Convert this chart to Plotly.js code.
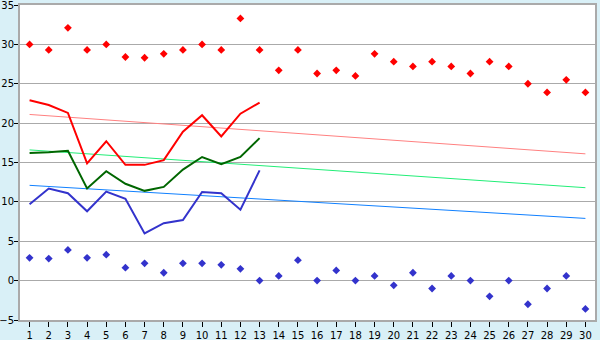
<!DOCTYPE html>
<html><head><meta charset="utf-8">
<script src="https://cdn.plot.ly/plotly-3.0.1.min.js"></script>
<style>html,body{margin:0;padding:0;background:#d9f0f7;}</style>
</head><body>
<div id="chart" style="width:600px;height:340px;"></div>
<script>
const days = Array.from({length:30},(_,i)=>i+1);
const lineDays = days.slice(0,13);
const maxPoints = [30.0,29.3,32.1,29.3,30.0,28.4,28.3,28.8,29.3,30.0,29.3,33.3,29.3,26.7,29.3,26.3,26.7,26.0,28.8,27.8,27.2,27.8,27.2,26.3,27.8,27.2,25.0,23.9,25.5,23.9];
const minPoints = [2.9,2.8,3.9,2.9,3.3,1.65,2.2,1.0,2.2,2.2,2.0,1.5,0.0,0.6,2.6,0.0,1.3,0.0,0.6,-0.6,1.0,-1.0,0.6,0.0,-2.0,0.0,-3.0,-1.0,0.6,-3.6];
const maxLine = [22.9,22.3,21.3,14.9,17.7,14.7,14.7,15.3,18.9,21.0,18.3,21.2,22.6];
const avgLine = [16.2,16.3,16.5,11.7,13.9,12.3,11.4,11.9,14.1,15.7,14.8,15.7,18.1];
const minLine = [9.7,11.7,11.1,8.8,11.3,10.4,6.0,7.3,7.7,11.25,11.1,9.0,14.0];
const trendDays = [1,30];
const maxTrend = [21.1,16.1];
const avgTrend = [16.6,11.8];
const minTrend = [12.1,7.9];
const yTicks = [-5,0,5,10,15,20,25,30,35];

const traces = [
 {x:trendDays,y:maxTrend,mode:'lines',line:{color:'#ff8080',width:1}},
 {x:trendDays,y:avgTrend,mode:'lines',line:{color:'#22ee77',width:1}},
 {x:trendDays,y:minTrend,mode:'lines',line:{color:'#1080ff',width:1}},
 {x:lineDays,y:maxLine,mode:'lines',line:{color:'#ff0000',width:2}},
 {x:lineDays,y:avgLine,mode:'lines',line:{color:'#006600',width:2}},
 {x:lineDays,y:minLine,mode:'lines',line:{color:'#3333cc',width:2}},
 {x:days,y:maxPoints,mode:'markers',marker:{symbol:'diamond',size:6,color:'#ff0000'}},
 {x:days,y:minPoints,mode:'markers',marker:{symbol:'diamond',size:6,color:'#3333cc'}}
];
const layout = {
 width:600,height:340,showlegend:false,
 paper_bgcolor:'#d9f0f7',plot_bgcolor:'#ffffff',
 margin:{l:20,r:5,t:5,b:20},
 font:{family:'DejaVu Sans',size:10,color:'#000'},
 xaxis:{range:[0.5,30.5],tickvals:days,ticktext:days.map(String),showgrid:false,zeroline:false,
   ticks:'outside',ticklen:5,tickcolor:'#000',ticklabelstandoff:0,ticklabeloverflow:'allow',showline:true,linecolor:'#aaaaaa',linewidth:2,mirror:true,fixedrange:true},
 yaxis:{range:[-5.0001,35.0001],tickvals:yTicks,ticktext:yTicks.map(v=>v<0?'\u2212'+Math.abs(v):String(v)),showgrid:true,gridcolor:'#aaaaaa',gridwidth:1,zeroline:false,
   ticks:'outside',ticklen:4,tickcolor:'#000',ticklabelstandoff:-2,ticklabeloverflow:'allow',showline:true,linecolor:'#aaaaaa',linewidth:2,mirror:true,fixedrange:true}
};
Plotly.newPlot('chart',traces,layout,{displayModeBar:false,staticPlot:true});
</script>
</body></html>
